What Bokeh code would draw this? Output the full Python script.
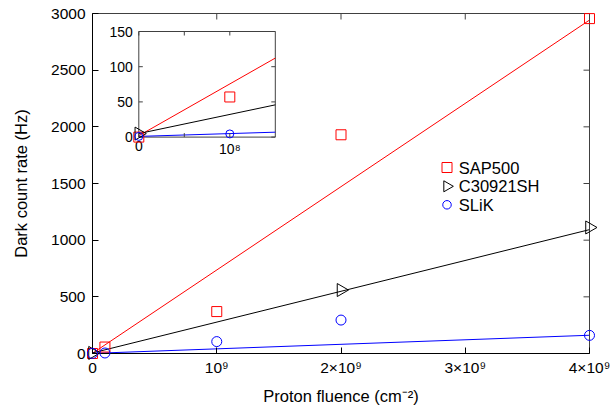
import numpy as np
from bokeh.plotting import figure
from bokeh.models import Range1d, FixedTicker
from bokeh.embed import file_html
from bokeh.resources import INLINE
from bokeh.core.properties import value

# ---------------- data ----------------
series_names = ["SAP500", "C30921SH", "SLiK"]
series_colors = ["#ff0000", "#000000", "#0000ff"]

sap_x = [0, 1e8, 1e9, 2e9, 4e9]
sap_y = [0, 57, 370, 1930, 2955]
c3_x = [0, 2e9, 4e9]
c3_y = [5, 560, 1112]
slik_x = [0, 1e8, 1e9, 2e9, 4e9]
slik_y = [1, 4.5, 105, 295, 160]

# linear fits: (intercept, slope)
sap_fit = (2.0, 7.35e-7)
c3_fit = (5.0, 2.72e-7)
slik_fit = (1.0, 4.0e-8)

x_max = 4e9
y_max = 3000
x_ticks = [0, 1000000000, 2000000000, 3000000000, 4000000000]
x_tick_labels = ["0", "10⁹", "2×10⁹", "3×10⁹", "4×10⁹"]
y_ticks = [0, 500, 1000, 1500, 2000, 2500, 3000]

inset_x_max = 1.5e8
inset_y_max = 150
inset_x_ticks = [0, 5e7, 1e8]
inset_x_label_pos = [0, 1e8]
inset_x_labels = ["0", "10⁸"]
inset_y_ticks = [0, 50, 100, 150]
inset_y_labels = ["0", "50", "100", "150"]

# ---------------- layout constants ----------------
FW, FH = 497, 340
FONT = "Liberation Sans"
IL, IT, IW, IH = 46.3, 18.0, 136.5, 105.6   # inset box inside the frame (px)
TL = 4.0                                     # inset tick length (px)
MTL = 6.0                                    # main tick length (px)
FRAME = "#404040"

p = figure(frame_width=FW, frame_height=FH,
           min_border_left=92, min_border_right=22,
           min_border_top=13, min_border_bottom=56,
           x_range=Range1d(0, x_max), y_range=Range1d(0, y_max),
           output_backend="svg", toolbar_location=None)
p.outline_line_color = FRAME
p.outline_line_width = 1
p.xgrid.visible = False
p.ygrid.visible = False
p.background_fill_color = "white"
p.border_fill_color = "white"

xa = p.xaxis[0]
xa.ticker = FixedTicker(ticks=x_ticks)
xa.major_label_overrides = {t: l for t, l in zip(x_ticks, x_tick_labels)}
ya = p.yaxis[0]
ya.ticker = FixedTicker(ticks=y_ticks)
for ax in (xa, ya):
    ax.major_tick_in = int(MTL)
    ax.major_tick_out = 0
    ax.minor_tick_line_color = None
    ax.axis_line_color = "black"
    ax.major_tick_line_color = "black"
    ax.major_label_text_font = FONT
    ax.major_label_text_font_size = "15.5px"
    ax.major_label_text_color = "black"
    ax.axis_label_text_font = FONT
    ax.axis_label_text_font_size = "16.5px"
    ax.axis_label_text_font_style = "normal"
    ax.axis_label_text_color = "black"
xa.axis_label = "Proton fluence (cm⁻²)"
ya.axis_label = "Dark count rate (Hz)"
xa.major_label_standoff = 5
xa.axis_label_standoff = 8
ya.major_label_standoff = 7
ya.axis_label_standoff = 18

# mirrored inward ticks on the top and right edges of the frame
xt_m = np.array(x_ticks, dtype=float)
yt_m = np.array(y_ticks, dtype=float)
p.segment(x0=xt_m, x1=xt_m, y0=np.full_like(xt_m, y_max),
          y1=np.full_like(xt_m, y_max - MTL * y_max / FH), line_color=FRAME)
p.segment(x0=np.full_like(yt_m, x_max), x1=np.full_like(yt_m, x_max - MTL * x_max / FW),
          y0=yt_m, y1=yt_m, line_color=FRAME)

# ---------------- main plot ----------------
fits = [sap_fit, c3_fit, slik_fit]
for (a, b), col in zip(fits, series_colors):
    fx = np.array([0, x_max])
    p.line(fx, a + b * fx, line_color=col, line_width=1)

p.scatter(sap_x, sap_y, marker="square", size=10, fill_color=None,
          line_color=series_colors[0], line_width=1, level="overlay")
p.scatter(c3_x, c3_y, marker="triangle", angle=-np.pi / 2, size=13, fill_color=None,
          line_color=series_colors[1], line_width=1, level="overlay")
p.scatter(slik_x, slik_y, marker="circle", size=10, fill_color=None,
          line_color=series_colors[2], line_width=1, level="overlay")

# ---------------- inset ----------------
ux = inset_x_max / IW
uy = inset_y_max / IH
ix0 = -IL * ux
iy0 = -(FH - IT - IH) * uy
p.extra_x_ranges = {"inset": Range1d(ix0, ix0 + FW * ux), "px": Range1d(0, FW)}
p.extra_y_ranges = {"inset": Range1d(iy0, iy0 + FH * uy), "px": Range1d(0, FH)}
ins = dict(x_range_name="inset", y_range_name="inset")

p.quad(left=[0], right=[inset_x_max], bottom=[0], top=[inset_y_max],
       fill_color="white", line_color=FRAME, line_width=1, **ins)

for (a, b), col in zip(fits, series_colors):
    fx = np.array([0, inset_x_max])
    p.line(fx, a + b * fx, line_color=col, line_width=1, **ins)

# inset ticks (inward, mirrored)
yt = np.array(inset_y_ticks, dtype=float)
xt = np.array(inset_x_ticks, dtype=float)
p.segment(x0=np.zeros_like(yt), x1=np.full_like(yt, TL * ux), y0=yt, y1=yt,
          line_color=FRAME, **ins)
p.segment(x0=np.full_like(yt, inset_x_max), x1=np.full_like(yt, inset_x_max - TL * ux),
          y0=yt, y1=yt, line_color=FRAME, **ins)
p.segment(x0=xt, x1=xt, y0=np.zeros_like(xt), y1=np.full_like(xt, TL * uy),
          line_color=FRAME, **ins)
p.segment(x0=xt, x1=xt, y0=np.full_like(xt, inset_y_max),
          y1=np.full_like(xt, inset_y_max - TL * uy), line_color=FRAME, **ins)

p.text(x=[0] * len(inset_y_ticks), y=inset_y_ticks, text=inset_y_labels,
       text_align="right", text_baseline="middle", x_offset=-6,
       text_font=value(FONT), text_font_size="14px", text_color="black", **ins)
p.text(x=inset_x_label_pos, y=[0] * len(inset_x_label_pos), text=inset_x_labels,
       text_align="center", text_baseline="top", y_offset=4,
       text_font=value(FONT), text_font_size="14px", text_color="black", **ins)

ix = [v for v in sap_x if v <= inset_x_max]
p.scatter(ix, sap_y[:len(ix)], marker="square", size=10, fill_color=None,
          line_color=series_colors[0], level="overlay", **ins)
ix = [v for v in c3_x if v <= inset_x_max]
p.scatter(ix, c3_y[:len(ix)], marker="triangle", angle=-np.pi / 2, size=13, fill_color=None,
          line_color=series_colors[1], level="overlay", **ins)
ix = [v for v in slik_x if v <= inset_x_max]
p.scatter(ix, slik_y[:len(ix)], marker="circle", size=8, fill_color=None,
          line_color=series_colors[2], level="overlay", **ins)

# ---------------- legend (custom, px coordinates of frame) ----------------
LX, LTX = 354.5, 366.3
LY = [186.0, 167.2, 148.7]
px = dict(x_range_name="px", y_range_name="px")
p.scatter([LX], [LY[0]], marker="square", size=10, fill_color=None,
          line_color=series_colors[0], level="overlay", **px)
p.scatter([LX], [LY[1]], marker="triangle", angle=-np.pi / 2, size=11, fill_color=None,
          line_color=series_colors[1], level="overlay", **px)
p.scatter([LX], [LY[2]], marker="circle", size=8.5, fill_color=None,
          line_color=series_colors[2], level="overlay", **px)
p.text(x=[LTX] * 3, y=LY, text=series_names, text_align="left", text_baseline="middle",
       text_font=value(FONT), text_font_size="16.5px", text_color="black",
       level="overlay", **px)

open("out.html", "w").write(file_html(p, INLINE))
